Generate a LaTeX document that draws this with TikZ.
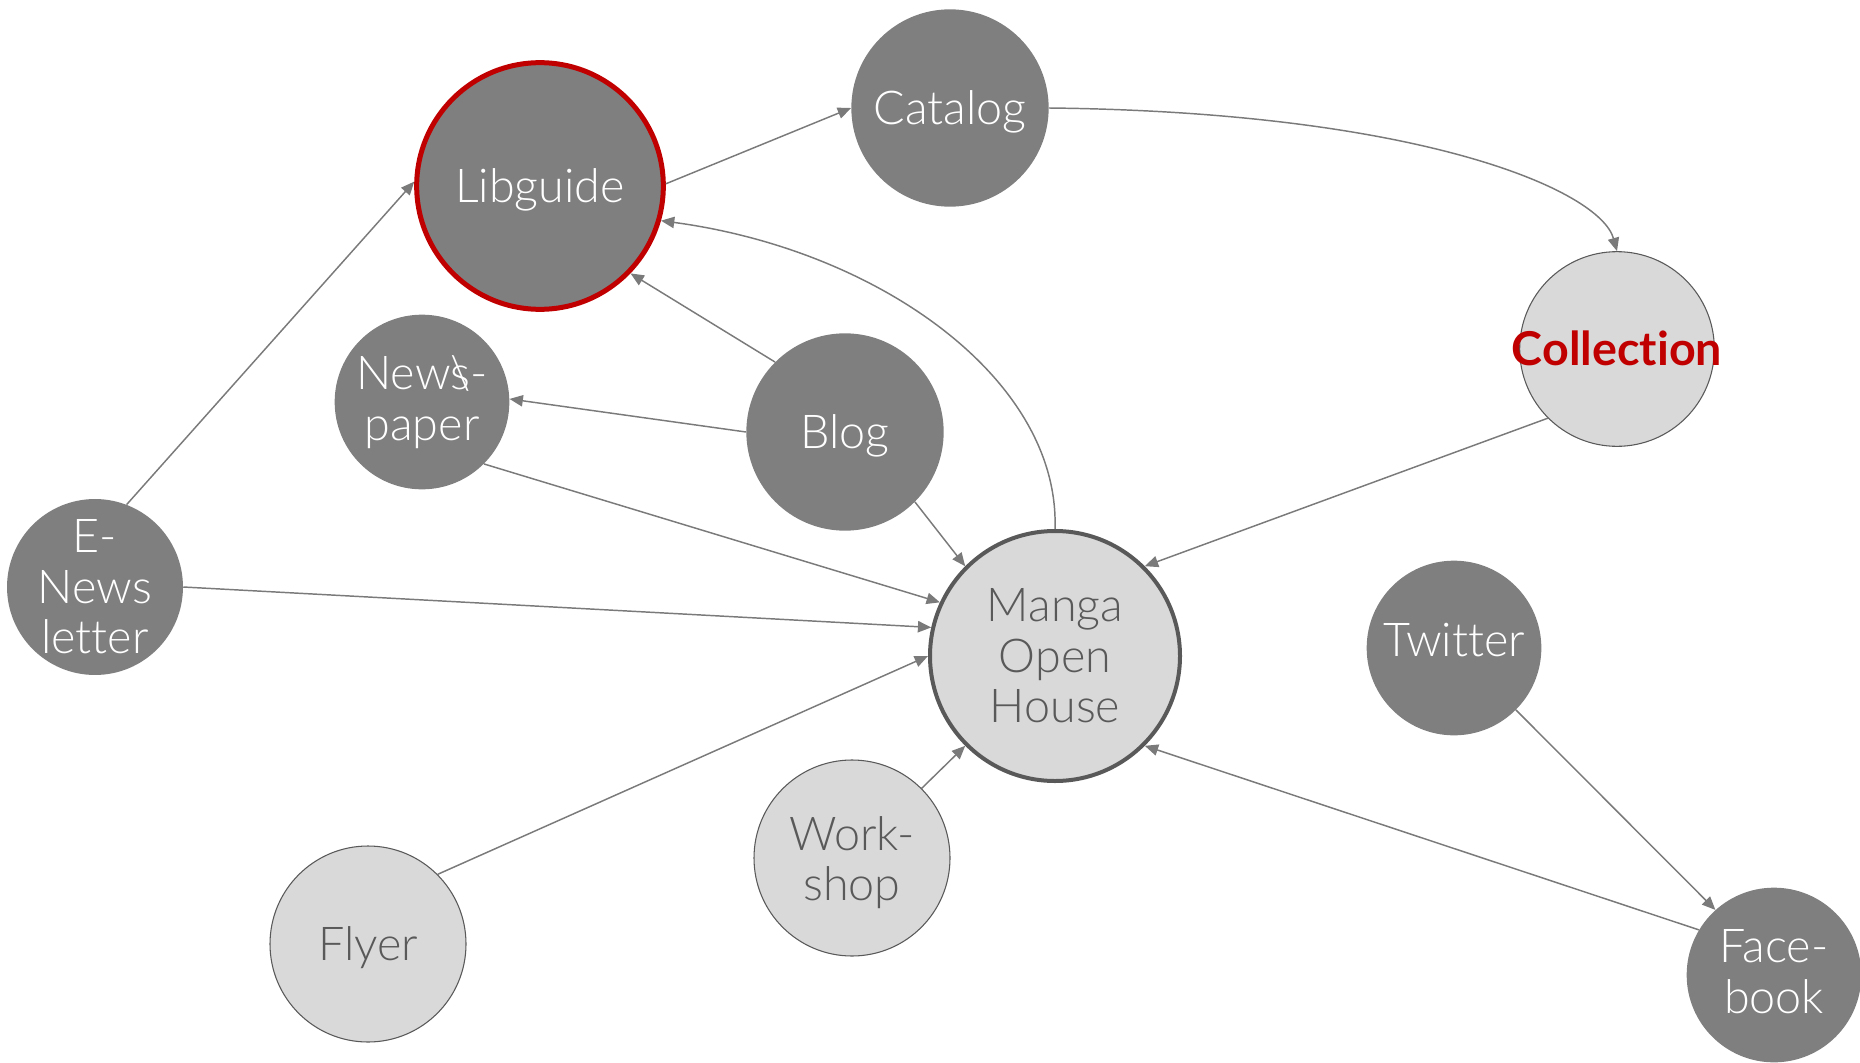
\documentclass[tikz,border=0pt]{standalone}
\usepackage{fontspec}
\setmainfont{Lato}[UprightFont={* Light},BoldFont={* Bold},Ligatures=NoCommon]
\usetikzlibrary{arrows.meta}
\definecolor{dk}{HTML}{7F7F7F}
\definecolor{lt}{HTML}{D9D9D9}
\definecolor{tx}{HTML}{595959}
\definecolor{rd}{HTML}{C00000}
\definecolor{ed}{HTML}{7A7A7A}
\tikzset{
 base/.style={circle, inner sep=0pt, align=center, font=\fontsize{35}{38}\selectfont},
 one/.style={text height=24pt, text depth=0pt},
 dark/.style={base, fill=dk, text=white},
 light/.style={base, fill=lt, draw=tx, line width=0.8pt, text=tx},
 conn/.style={draw=ed, line width=1.1pt, -{Triangle[length=10pt,width=8.5pt]}},
}
\begin{document}
\begin{tikzpicture}[x=0.75pt,y=-0.75pt]
\useasboundingbox (0,0) rectangle (1860,1063);
\node[dark, one, draw=rd, line width=3.75pt, minimum size=185pt] (lib) at (540,186) {Libguide};
\node[dark, one, minimum size=148pt] (cat) at (950,108) {Catalog};
\node[light, one, minimum size=146pt, text=rd, font=\fontsize{35}{38}\selectfont\bfseries] (col) at (1617,349) {\makebox[0pt]{Collection}};
\node[dark, minimum size=131pt] (news) at (422,402) {New\rlap{\textbackslash}s-\\paper};
\node[dark, one, minimum size=148pt] (blog) at (845,432) {Blog};
\node[dark, minimum size=131pt] (enl) at (95,587) {E-\\News\\letter};
\node[light, draw=tx, line width=3pt, minimum size=187.5pt] (manga) at (1055,656) {Manga\\Open\\House};
\node[dark, one, text height=13.4pt, minimum size=131pt] (tw) at (1454,648) {Twitter};
\node[light, one, minimum size=147pt] (fly) at (368,944) {Flyer};
\node[light, minimum size=147pt] (ws) at (852,858) {\rule{0pt}{32.5pt}Work-\\shop};
\node[dark, minimum size=131pt] (fb) at (1774,975) {Face-\\book\rule[-5pt]{0pt}{0pt}};

\draw[conn] (lib.1) -- (cat.180);
\draw[conn] (cat.0) .. controls (1420,112) and (1600,190) .. (col.90);
\draw[conn] (manga.90) .. controls (1060,380) and (880,250) .. (lib.-16);
\draw[conn] (blog.135) -- (lib.-44);
\draw[conn] (blog.180) -- (news.2);
\draw[conn] (blog.-45) -- (manga.135);
\draw[conn] (news.-45) -- (manga.155);
\draw[conn] (enl.69) -- (lib.178);
\draw[conn] (enl.0) -- (manga.167);
\draw[conn] (fly.45) -- (manga.180);
\draw[conn] (ws.45) -- (manga.225);
\draw[conn] (col.225) -- (manga.45);
\draw[conn] (fb.149) -- (manga.-45);
\draw[conn] (tw.-45) -- (fb.132);
\end{tikzpicture}
\end{document}
